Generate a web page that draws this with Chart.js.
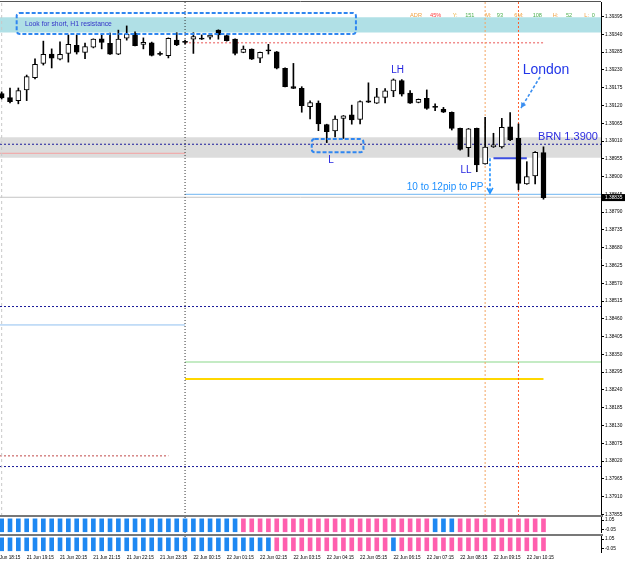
<!DOCTYPE html>
<html><head><meta charset="utf-8">
<script src="https://cdn.jsdelivr.net/npm/chart.js@4.4.1/dist/chart.umd.min.js"></script>
<style>
html,body{margin:0;padding:0;background:#fff;}
#wrap{position:relative;width:625px;height:563px;overflow:hidden;background:#fff;}
#wrap canvas{position:absolute;left:0;}
.sep{position:absolute;left:0;width:603px;height:2px;background:#787878;}
</style></head><body>
<div id="wrap">
<canvas id="main" width="625" height="517" style="top:0px"></canvas>
<canvas id="ind1" width="625" height="16" style="top:517px"></canvas>
<canvas id="ind2" width="625" height="27" style="top:536px"></canvas>
<div class="sep" style="top:515px"></div>
<div class="sep" style="top:534px"></div>
</div>
<script>
// ---------- DATA ----------
const openP = [1.39157,1.39144,1.39135,1.39168,1.39206,1.39250,1.39279,1.39263,1.39281,1.39306,
1.39284,1.39300,1.39326,1.39312,1.39279,1.39328,1.39343,1.39309,1.39314,1.39279,
1.39274,1.39322,1.39315,1.39325,1.39325,1.39331,1.39353,1.39336,1.39325,1.39284,
1.39294,1.39266,1.39290,1.39286,1.39235,1.39178,1.39173,1.39116,1.39127,1.39061,
1.39041,1.39080,1.39091,1.39077,1.39134,1.39127,1.39145,1.39165,1.39197,1.39158,
1.39129,1.39142,1.39114,1.39108,1.39099,1.39049,1.38989,1.39049,1.38939,1.38992,
1.38992,1.39054,1.39018,1.38877,1.38902,1.38974];
const highP = [1.39162,1.39174,1.39174,1.39214,1.39264,1.39319,1.39295,1.39317,1.39338,1.39338,
1.39313,1.39326,1.39341,1.39344,1.39353,1.39366,1.39348,1.39329,1.39316,1.39286,
1.39329,1.39345,1.39322,1.39345,1.39338,1.39341,1.39354,1.39338,1.39326,1.39304,
1.39295,1.39285,1.39309,1.39287,1.39236,1.39250,1.39178,1.39134,1.39134,1.39062,
1.39088,1.39089,1.39121,1.39134,1.39190,1.39173,1.39172,1.39202,1.39200,1.39166,
1.39140,1.39168,1.39125,1.39114,1.39100,1.39050,1.39049,1.39050,1.39083,1.39034,
1.39080,1.39098,1.39063,1.38946,1.38977,1.38992];
const lowP = [1.39140,1.39128,1.39125,1.39135,1.39202,1.39245,1.39236,1.39261,1.39254,1.39279,
1.39265,1.39298,1.39295,1.39278,1.39277,1.39322,1.39304,1.39295,1.39273,1.39275,
1.39267,1.39305,1.39310,1.39281,1.39324,1.39325,1.39325,1.39319,1.39276,1.39283,
1.39262,1.39252,1.39279,1.39233,1.39177,1.39172,1.39099,1.39078,1.39042,1.39005,
1.39023,1.39018,1.39062,1.39063,1.39129,1.39126,1.39128,1.39147,1.39149,1.39126,
1.39128,1.39108,1.39104,1.39098,1.39044,1.38982,1.38962,1.38915,1.38938,1.38990,
1.38988,1.39011,1.38859,1.38876,1.38877,1.38830];
const closeP = [1.39143,1.39132,1.39166,1.39209,1.39247,1.39278,1.39266,1.39278,1.39309,1.39285,
1.39302,1.39325,1.39315,1.39279,1.39325,1.39340,1.39305,1.39315,1.39275,1.39278,
1.39328,1.39307,1.39316,1.39333,1.39326,1.39338,1.39338,1.39320,1.39281,1.39294,
1.39263,1.39284,1.39289,1.39235,1.39178,1.39173,1.39119,1.39129,1.39063,1.39039,
1.39078,1.39088,1.39075,1.39132,1.39130,1.39147,1.39165,1.39199,1.39155,1.39127,
1.39139,1.39111,1.39115,1.39099,1.39049,1.38984,1.39048,1.38936,1.38991,1.38998,
1.39052,1.39013,1.38879,1.38900,1.38975,1.38835];
// indicator histograms (1 = up/blue, -1 = down/pink)
const ind1Vals = [1,1,1,1,1,1,1,1,1,1,1,1,1,1,1,1,1,1,1,1,1,1,1,1,1,1,1,1,1,
-1,-1,-1,-1,-1,-1,-1,-1,-1,-1,-1,-1,-1,-1,-1,-1,-1,-1,-1,-1,-1,-1,-1,
1,1,1,-1,-1,-1,-1,-1,-1,-1,-1,-1,-1,-1];
const ind2Vals = [1,1,1,1,1,1,1,1,1,1,1,1,1,1,1,1,1,1,1,1,1,1,1,1,1,1,1,1,1,1,1,1,1,
-1,-1,-1,-1,-1,-1,-1,-1,-1,-1,-1,-1,-1,-1,
1,-1,-1,-1,-1,-1,-1,-1,-1,-1,-1,-1,-1,-1,-1,-1,-1,-1,-1];
const yTicks = [1.39395,1.39340,1.39285,1.39230,1.39175,1.39120,1.39065,1.39010,1.38955,1.38900,
1.38845,1.38790,1.38735,1.38680,1.38625,1.38570,1.38515,1.38460,1.38405,1.38350,1.38295,
1.38240,1.38185,1.38130,1.38075,1.38020,1.37965,1.37910,1.37855];
const timeLabels = ["21 Jun 18:15","21 Jun 19:15","21 Jun 20:15","21 Jun 21:15","21 Jun 22:15","21 Jun 23:15",
"22 Jun 00:15","22 Jun 01:15","22 Jun 02:15","22 Jun 03:15","22 Jun 04:15","22 Jun 05:15","22 Jun 06:15",
"22 Jun 07:15","22 Jun 08:15","22 Jun 09:15","22 Jun 10:15"];
const timeTickIdx = [-1,3,7,11,15,19,23,27,31,35,39,43,47,51,55,59,63];
const indTickVals = [0.95, 0.15];
const indTickLabels = ["1.05", "-0.05"];
const statLabels = ["ADR","45%","Y:","151","M:","93","6M:","108","H:","52","L:","0"];
const bidPrice = 1.38835;
// ---------- LAYOUT CONSTANTS ----------
const X_MIN = -0.2, X_MAX = 71.9, Y_MIN = 1.3785, Y_MAX = 1.3944;
const FONT = "'Liberation Sans', Arial, sans-serif";
Chart.defaults.animation = false;
Chart.defaults.font.family = FONT;

const idx = openP.map((_, i) => i);
const isUp = i => closeP[i] - openP[i] > 0.00002;

function hline(p, x0, x1, color, width, dash, order) {
  return {type:'line', data:[{x:x0,y:p},{x:x1,y:p}], borderColor:color, borderWidth:width,
    borderDash:dash||[], pointRadius:0, fill:false, order:order||5, clip:false};
}
function band(pTop, pBot, color) {
  return {type:'line', data:[{x:X_MIN,y:pTop},{x:X_MAX,y:pTop}], borderWidth:0, borderColor:color,
    backgroundColor:color, pointRadius:0, fill:{value:pBot}, order:10};
}
function vline(i, y0, y1, color, dash, width) {
  return {type:'line', data:[{x:i,y:y0},{x:i,y:y1}], borderColor:color, borderWidth:width||1,
    borderDash:dash, pointRadius:0, fill:false, order:4};
}
const yAxisCommon = {
  type:'linear', position:'right',
  grid:{drawOnChartArea:false, drawTicks:true, tickLength:3, color:'#000'},
  border:{display:true, color:'#000', width:1},
  ticks:{font:{size:4.8, family:FONT}, color:'#000', padding:1, autoSkip:false}
};

// ---------- MAIN CHART ----------
function rrect(ctx, x0, y0, x1, y1, r) {
  ctx.beginPath();
  if (ctx.roundRect) ctx.roundRect(x0, y0, x1 - x0, y1 - y0, r); else ctx.rect(x0, y0, x1 - x0, y1 - y0);
  ctx.stroke();
}
function arrow(ctx, x0, y0, x1, y1, color, filled) {
  ctx.save(); ctx.strokeStyle = color; ctx.lineWidth = 1.6; ctx.setLineDash([3,2]);
  ctx.beginPath(); ctx.moveTo(x0,y0); ctx.lineTo(x1,y1); ctx.stroke();
  ctx.setLineDash([]);
  const a = Math.atan2(y1 - y0, x1 - x0), L = 6, w = 0.5;
  ctx.beginPath();
  ctx.moveTo(x1 - L*Math.cos(a-w), y1 - L*Math.sin(a-w)); ctx.lineTo(x1, y1);
  ctx.lineTo(x1 - L*Math.cos(a+w), y1 - L*Math.sin(a+w));
  if (filled) { ctx.closePath(); ctx.fillStyle = color; ctx.fill(); } else ctx.stroke();
  ctx.restore();
}
const annotPlugin = {
  id:'annot',
  afterDraw(chart) {
    const ctx = chart.ctx, xs = chart.scales.x, ys = chart.scales.y;
    const X = v => xs.getPixelForValue(v), Y = v => ys.getPixelForValue(v);
    const ca = chart.chartArea;
    ctx.save();
    // top frame
    ctx.strokeStyle = '#555'; ctx.lineWidth = 1;
    ctx.beginPath(); ctx.moveTo(0, ca.top - 0.5); ctx.lineTo(ca.right, ca.top - 0.5); ctx.stroke();
    // dashed boxes
    ctx.strokeStyle = '#2f86f0'; ctx.lineWidth = 2; ctx.setLineDash([4,2]);
    rrect(ctx, X(1.8), Y(1.39406), X(42.5), Y(1.39341), 3);
    rrect(ctx, X(37.2), Y(1.39016), X(43.4), Y(1.38975), 3);
    ctx.setLineDash([]);
    ctx.textBaseline = 'middle';
    // texts
    ctx.fillStyle = '#3333c8'; ctx.font = '6.8px ' + FONT; ctx.textAlign = 'left';
    ctx.fillText('Look for short, H1 resistance', X(2.8), Y(1.39373));
    ctx.fillStyle = '#2424e0'; ctx.font = '10px ' + FONT; ctx.textAlign = 'center';
    ctx.fillText('LH', X(47.5), Y(1.39230));
    ctx.fillText('L', X(39.5), Y(1.38951));
    ctx.fillText('LL', X(55.7), Y(1.38920));
    ctx.textAlign = 'left';
    ctx.font = '14px ' + FONT; ctx.fillStyle = '#2236e8';
    ctx.fillText('London', X(62.5), Y(1.39230));
    ctx.font = '11px ' + FONT; ctx.fillStyle = '#2b2bdf';
    ctx.fillText('BRN 1.3900', X(64.35), Y(1.39022));
    ctx.font = '10px ' + FONT; ctx.fillStyle = '#1e90ff';
    ctx.fillText('10 to 12pip to PP', X(48.6), Y(1.38868));
    // arrows
    arrow(ctx, X(58.58), Y(1.38957), X(58.58), Y(1.38849), '#1e90ff', false);
    arrow(ctx, X(64.58), Y(1.39208), X(62.3), Y(1.39112), '#3a8ef0', true);
    // stats line
    const statPos = [49.0,51.4,54.1,55.6,58.0,59.4,61.5,63.7,66.1,67.7,69.9,70.8];
    const statCol = ['#f0a040','#ff3b3b','#e8b040','#4caf50','#f0a040','#4caf50','#f0a040','#4caf50','#f0a040','#4caf50','#f0a040','#4caf50'];
    ctx.font = '5.6px ' + FONT;
    statLabels.forEach((t, k) => { ctx.fillStyle = statCol[k]; ctx.fillText(t, X(statPos[k]), Y(1.39398)); });
    // bid price box
    const yb = Y(bidPrice);
    ctx.fillStyle = '#000'; ctx.fillRect(ca.right + 1, yb - 3.5, 24, 7);
    ctx.fillStyle = '#fff'; ctx.font = '4.8px ' + FONT; ctx.textAlign = 'left';
    ctx.fillText(bidPrice.toFixed(5), ca.right + 4, yb);
    ctx.restore();
  }
};

new Chart(document.getElementById('main'), {
  type:'bar',
  data:{ datasets:[
    {label:'body', data: idx.map(i => ({x:i, y:[Math.min(openP[i],closeP[i]), Math.max(openP[i],closeP[i])]})),
      backgroundColor: idx.map(i => isUp(i) ? '#ffffff' : '#000000'), borderColor:'#000', borderWidth:1,
      borderSkipped:false, barThickness:5, grouped:false, minBarLength:1, order:0},
    {label:'wick', data: idx.map(i => ({x:i, y:[lowP[i], highP[i]]})),
      backgroundColor:'#000', borderWidth:0, barThickness:1, grouped:false, order:1},
    band(1.39393, 1.39346, '#b0e0e6'),
    band(1.39022, 1.38958, '#dcdcdc'),
    hline(1.39314, 22, 65, '#f08c8c', 1.5, [2,2]),
    hline(1.39000, X_MIN, X_MAX, '#1a1a9a', 1, [2,2]),
    hline(1.38972, X_MIN, 22, '#f4a0a0', 1),
    hline(1.38845, 22, X_MAX, '#8cc4f4', 1.2),
    hline(1.38836, X_MIN, X_MAX, '#c4c4c4', 1),
    hline(1.38957, 59, 63, '#3c4ee0', 2, [], 3),
    hline(1.38498, X_MIN, X_MAX, '#1a1a9a', 1, [2,2]),
    hline(1.38441, X_MIN, 22, '#90c0f0', 1),
    hline(1.38326, 22, X_MAX, '#b0e4b0', 1.5),
    hline(1.38274, 22, 65, '#ffd700', 2),
    hline(1.38036, X_MIN, 20, '#c04848', 1, [2,2]),
    hline(1.38003, X_MIN, X_MAX, '#1a1a9a', 1, [2,2]),
    vline(0, Y_MIN, Y_MAX, '#c8c8c8', [3,3]),
    vline(22, Y_MIN, Y_MAX, '#333333', [1,2]),
    vline(58, Y_MIN, Y_MAX, '#f4a460', [2,2]),
    vline(62, Y_MIN, Y_MAX, '#ff5a28', [2,2])
  ]},
  options:{
    responsive:false, animation:false,
    layout:{padding:{left:0, right:0, top:2, bottom:1}},
    plugins:{legend:{display:false}, tooltip:{enabled:false}},
    scales:{
      x:{type:'linear', min:X_MIN, max:X_MAX, display:false, offset:false},
      y:Object.assign({}, yAxisCommon, {min:Y_MIN, max:Y_MAX,
        afterBuildTicks:s => { s.ticks = yTicks.map(v => ({value:v})); },
        afterFit:s => { s.width = 24; s.paddingTop = 0; s.paddingBottom = 0; },
        ticks:Object.assign({}, yAxisCommon.ticks, {callback:v => v.toFixed(5)})
      })
    }
  },
  plugins:[annotPlugin]
});

// ---------- INDICATOR PANELS ----------
function indChart(id, vals, showTime) {
  return new Chart(document.getElementById(id), {
    type:'bar',
    data:{datasets:[
      {data: idx.map(i => ({x:i, y:[0, 1.05]})),
        backgroundColor: vals.map(v => v > 0 ? '#1e88f2' : '#ff5fae'),
        borderWidth:0, barThickness:4, grouped:false, order:1},
      vline(22, -0.1, 1.2, '#333333', [1,2])
    ]},
    options:{
      responsive:false, animation:false,
      layout:{padding:0},
      plugins:{legend:{display:false}, tooltip:{enabled:false}},
      scales:{
        x: showTime ? {type:'linear', min:X_MIN, max:X_MAX, offset:false, position:'bottom',
            grid:{drawOnChartArea:false, drawTicks:false}, border:{display:false},
            afterBuildTicks:s => { s.ticks = timeTickIdx.map(v => ({value:v})); },
            afterFit:s => { s.height = 11; s.paddingLeft = 0; s.paddingRight = 0; },
            ticks:{autoSkip:false, maxRotation:0, minRotation:0, align:'start', padding:3,
              font:{size:4.7, family:FONT}, color:'#000', callback:(v, k) => timeLabels[k]}}
          : {type:'linear', min:X_MIN, max:X_MAX, display:false, offset:false},
        y:Object.assign({}, yAxisCommon, {min:-0.1, max:1.2,
          afterBuildTicks:s => { s.ticks = indTickVals.map(v => ({value:v})); },
          afterFit:s => { s.width = 24; s.paddingTop = 0; s.paddingBottom = 0; },
          ticks:Object.assign({}, yAxisCommon.ticks, {callback:(v, k) => indTickLabels[k]})
        })
      }
    }
  });
}
indChart('ind1', ind1Vals, false);
indChart('ind2', ind2Vals, true);
</script>
</body></html>
